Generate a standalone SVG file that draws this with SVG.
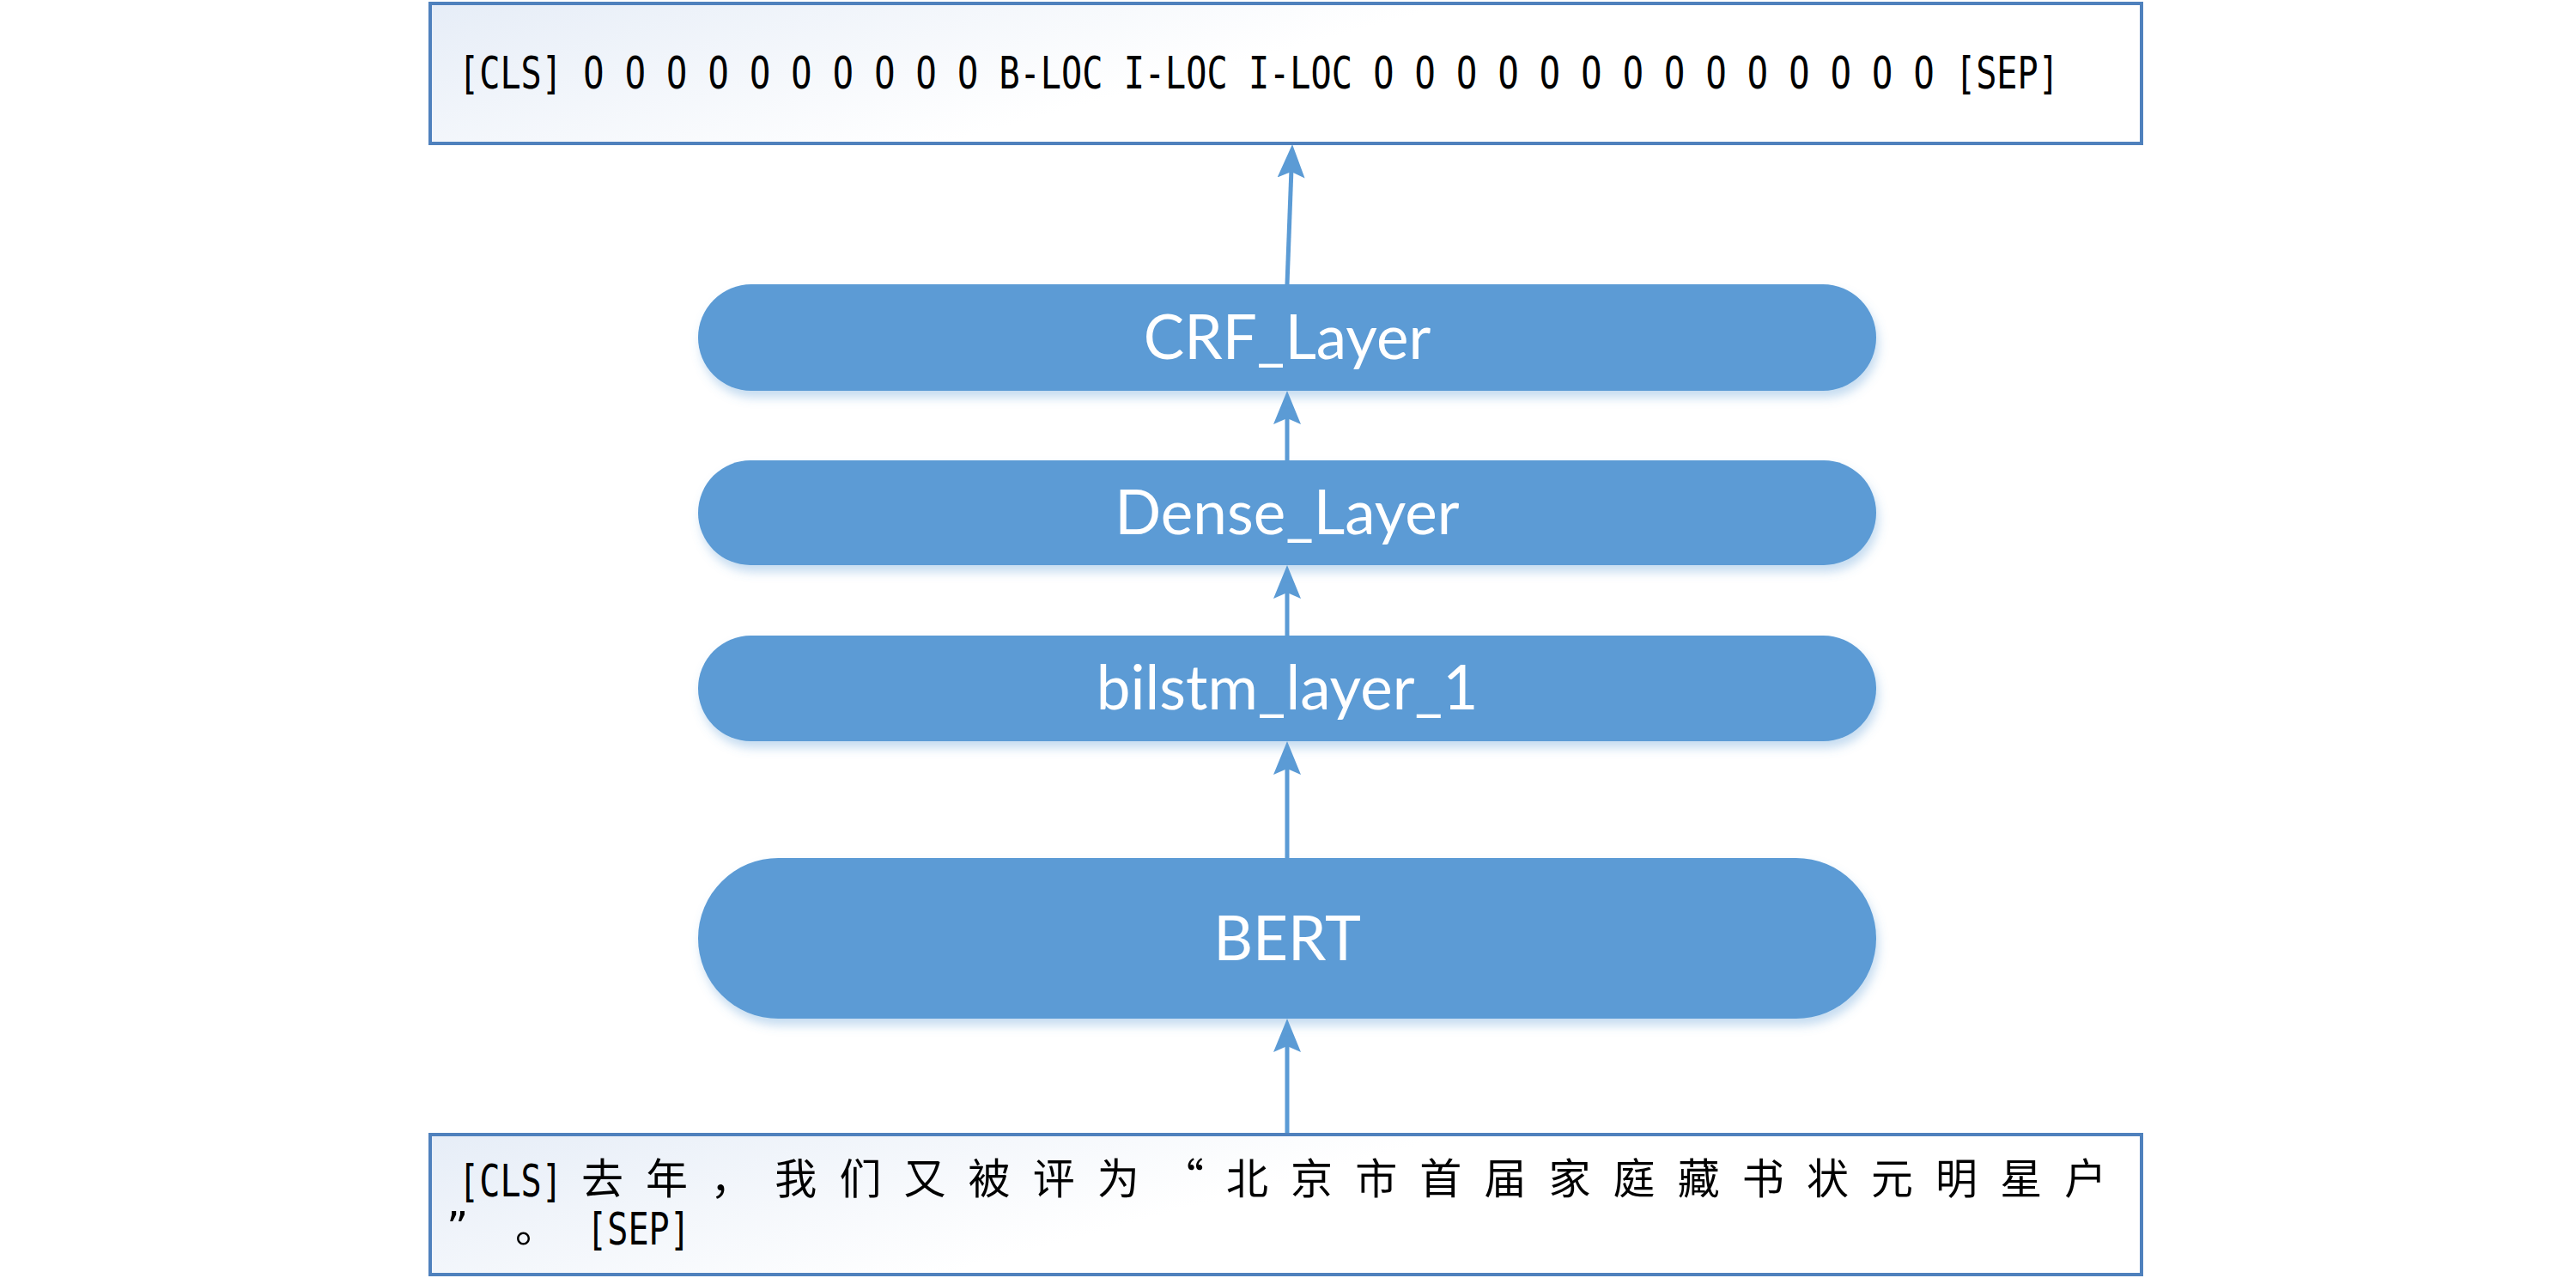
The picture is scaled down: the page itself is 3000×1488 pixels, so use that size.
<svg xmlns="http://www.w3.org/2000/svg" width="3000" height="1488" viewBox="0 0 3000 1488">
<defs>
<style>
.box{stroke:#4f81bd;stroke-width:4;fill:url(#boxGrad)}
.pill{fill:#5b9bd5;filter:url(#shadow)}
.ptxt{font-family:Lato,"Open Sans",sans-serif;font-size:71px;fill:#ffffff;text-anchor:middle}
.mono{font-family:"DejaVu Sans Mono","Liberation Mono",monospace;font-size:52px;fill:#000000}
.cjk{font-family:"Noto Sans CJK SC","Noto Sans CJK JP",sans-serif;font-size:49px;fill:#000000}
.punc{font-family:"DejaVu Sans","Noto Sans CJK SC",sans-serif;font-size:49px;fill:#000000}
.conn{stroke:#5b9bd5;stroke-width:5;fill:none;marker-end:url(#arrow)}
</style>
<linearGradient id="boxGrad" x1="0" y1="0" x2="1" y2="0.3">
<stop offset="0" stop-color="#e6edf7"/>
<stop offset="0.55" stop-color="#ffffff"/>
<stop offset="1" stop-color="#ffffff"/>
</linearGradient>
<filter id="shadow" x="-5%" y="-20%" width="110%" height="160%">
<feDropShadow dx="3" dy="8" stdDeviation="6" flood-color="#5b9bd5" flood-opacity="0.35"/>
</filter>
<marker id="arrow" markerUnits="userSpaceOnUse" markerWidth="40" markerHeight="34" viewBox="0 0 40 34" refX="19" refY="17" orient="auto">
<path d="M0,1 L39,17 L0,33 L7,17 Z" fill="#5b9bd5"/>
</marker>
</defs>
<rect width="3000" height="1488" fill="#ffffff"/>

<g id="connectors">
<line class="conn" x1="1499" y1="331" x2="1504.3" y2="188"/>
<line class="conn" x1="1499" y1="536" x2="1499" y2="475"/>
<line class="conn" x1="1499" y1="740" x2="1499" y2="678"/>
<line class="conn" x1="1499" y1="999" x2="1499" y2="883"/>
<line class="conn" x1="1499" y1="1320" x2="1499" y2="1206"/>
</g>

<g id="output-tags">
<rect class="box" x="501" y="4" width="1993" height="163"/>
<text class="mono" x="534" y="103" textLength="1864" lengthAdjust="spacingAndGlyphs">[CLS] O O O O O O O O O O B-LOC I-LOC I-LOC O O O O O O O O O O O O O O [SEP]</text>
</g>

<g id="crf-layer">
<rect class="pill" x="813" y="331" width="1372" height="124" rx="62" ry="62"/>
<text class="ptxt" x="1499" y="418">CRF_Layer</text>
</g>

<g id="dense-layer">
<rect class="pill" x="813" y="536" width="1372" height="122" rx="61" ry="61"/>
<text class="ptxt" x="1499" y="622">Dense_Layer</text>
</g>

<g id="bilstm-layer">
<rect class="pill" x="813" y="740" width="1372" height="123" rx="61.5" ry="61.5"/>
<text class="ptxt" x="1499" y="826">bilstm_layer_1</text>
</g>

<g id="bert">
<rect class="pill" x="813" y="999" width="1372" height="187" rx="93.5" ry="93.5"/>
<text class="ptxt" x="1499" y="1118">BERT</text>
</g>

<g id="input-sentence">
<rect class="box" x="501" y="1321" width="1993" height="163"/>
<text class="cjk"><tspan class="mono" x="534" y="1393" textLength="121" lengthAdjust="spacingAndGlyphs">[CLS]</tspan><tspan y="1390" x="677 752.1 827.2 902.3 977.4 1052.5 1127.6 1202.7 1277.8 1352.9 1428 1503.1 1578.2 1653.3 1728.4 1803.5 1878.6 1953.7 2028.8 2103.9 2179 2254.1 2329.2 2404.3">去年，我们又被评为“北京市首届家庭藏书状元明星户</tspan><tspan class="punc" y="1446" x="520 600">”。</tspan><tspan class="mono" x="683" y="1449" textLength="121" lengthAdjust="spacingAndGlyphs">[SEP]</tspan></text>
</g>
</svg>
